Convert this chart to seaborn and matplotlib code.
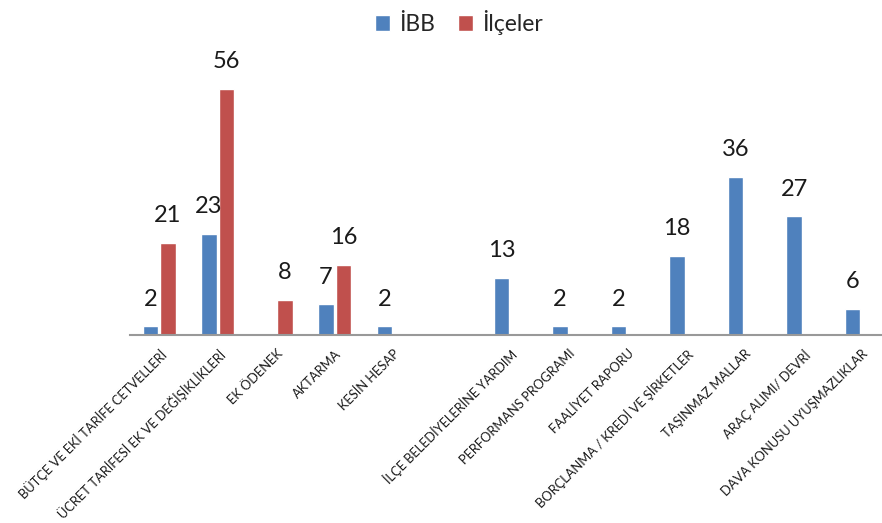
import pandas as pd
import seaborn as sns
import matplotlib.pyplot as plt

categories = [
    'BÜTÇE VE EKİ TARİFE CETVELLERİ',
    'ÜCRET TARİFESİ EK VE DEĞİŞİKLİKLERİ',
    'EK ÖDENEK',
    'AKTARMA',
    'KESİN HESAP',
    ' ',
    'İLÇE BELEDİYELERİNE YARDIM',
    'PERFORMANS PROGRAMI',
    'FAALİYET RAPORU',
    'BORÇLANMA / KREDİ VE ŞİRKETLER',
    'TAŞINMAZ MALLAR',
    'ARAÇ ALIMI/ DEVRİ',
    'DAVA KONUSU UYUŞMAZLIKLAR',
]
ibb = [2, 23, 0, 7, 2, 0, 13, 2, 2, 18, 36, 27, 6]
ilceler = [21, 56, 8, 16, 0, 0, 0, 0, 0, 0, 0, 0, 0]
series = ['İBB', 'İlçeler']
colors = ['#4F81BD', '#C0504D']

df = pd.DataFrame({'kategori': categories, series[0]: ibb, series[1]: ilceler})
df_long = df.melt(id_vars='kategori', var_name='seri', value_name='deger')

sns.set_style('white')
plt.rcParams['font.family'] = ['Lato', 'DejaVu Sans']

fig = plt.figure(figsize=(8.82, 5.23), dpi=100)
ax = fig.add_axes([130 / 882, 1 - 335 / 523, 752 / 882, 0.5])

sns.barplot(data=df_long, x='kategori', y='deger', hue='seri',
            order=categories, hue_order=series, palette=colors,
            width=0.6, gap=0.12, saturation=1, ax=ax)

for cont in ax.containers:
    labels = [f'{v:g}' if v > 0 else '' for v in cont.datavalues]
    ax.bar_label(cont, labels=labels, padding=12, fontsize=17, color='#1a1a1a')

ax.set_xlim(-0.5, 12.35)
ax.set_ylim(0, 59.5)
ax.set_xlabel('')
ax.set_ylabel('')
ax.set_yticks([])
for s in ['left', 'top', 'right']:
    ax.spines[s].set_visible(False)
ax.spines['bottom'].set_color('#999999')
ax.spines['bottom'].set_linewidth(1.5)
ax.tick_params(axis='x', length=0, pad=9)
plt.setp(ax.get_xticklabels(), rotation=45, ha='right', rotation_mode='anchor',
         fontsize=9.3, color='#1a1a1a')

ax.get_legend().remove()
handles, labs = ax.get_legend_handles_labels()
fig.legend(handles, labs, loc='upper center', bbox_to_anchor=(0.52, 1.02),
           ncol=2, frameon=False, fontsize=16.5, handlelength=0.65,
           handleheight=0.65, handletextpad=0.4, columnspacing=1.0)

fig.savefig('out.png', dpi=100)
